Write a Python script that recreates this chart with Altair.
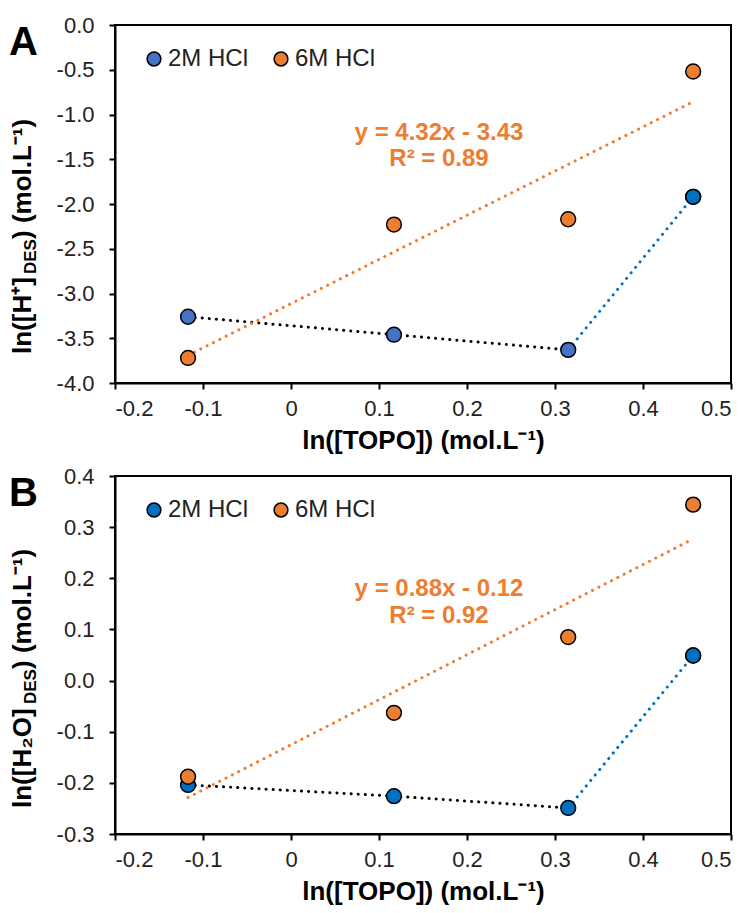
import altair as alt
import pandas as pd

FONT = "Liberation Sans"

# ---- data ----
x_topo = [-0.117, 0.117, 0.315, 0.457]
series_names = ["2M HCl", "6M HCl"]
a_2m = [-3.26, -3.46, -3.63, -1.92]
a_6m = [-3.72, -2.23, -2.17, -0.52]
b_2m = [-0.204, -0.226, -0.249, 0.049]
b_6m = [-0.188, -0.063, 0.085, 0.344]

x_ticks = [-0.2, -0.1, 0.0, 0.1, 0.2, 0.3, 0.4, 0.5]
a_y_ticks = [-4.0, -3.5, -3.0, -2.5, -2.0, -1.5, -1.0, -0.5, 0.0]
b_y_ticks = [-0.3, -0.2, -0.1, 0.0, 0.1, 0.2, 0.3, 0.4]

a_equation = ["y = 4.32x - 3.43", "R² = 0.89"]
b_equation = ["y = 0.88x - 0.12", "R² = 0.92"]
a_title_parts = ["ln([H⁺]", "DES", ") (mol.L⁻¹)"]
b_title_parts = ["ln([H₂O]", "DES", ") (mol.L⁻¹)"]
x_title = "ln([TOPO]) (mol.L⁻¹)"

ORANGE = "#ED7D31"
BLUE_A = "#4472C4"
BLUE_B = "#0070C0"

W, H = 616, 358
MINUS = "\u2212"


def txt(value, **kw):
    return alt.Chart(pd.DataFrame({"t": [value]})).mark_text(**kw)


def panel(y2m, y6m, yticks, ydomain, blue, letter, eq, tparts, eq_y, title_y0, w1):
    df = pd.DataFrame({
        "x": x_topo * 2,
        "y": y2m + y6m,
        "series": [series_names[0]] * 4 + [series_names[1]] * 4,
        "idx": [0, 1, 2, 3] * 2,
    })
    base = alt.Chart(df)
    xenc = alt.X("x:Q",
                 scale=alt.Scale(domain=[-0.2, 0.5], nice=False, zero=False),
                 axis=alt.Axis(values=x_ticks, title=x_title,
                               labelExpr=f"replace(format(datum.value, '.1~f'), '{MINUS}', '-')"))
    yenc = alt.Y("y:Q",
                 scale=alt.Scale(domain=ydomain, nice=False, zero=False),
                 axis=alt.Axis(values=yticks, title=None,
                               labelExpr=f"replace(format(datum.value, '.1f'), '{MINUS}', '-')"))
    dot = dict(strokeWidth=3, strokeDash=[0.1, 7], strokeCap="round")

    black_line = base.transform_filter(
        f"datum.series == '{series_names[0]}' && datum.idx <= 2"
    ).mark_line(color="black", **dot).encode(x=xenc, y=yenc, order="idx:Q")
    blue_line = base.transform_filter(
        f"datum.series == '{series_names[0]}' && datum.idx >= 2"
    ).mark_line(color=BLUE_B, **dot).encode(x=xenc, y=yenc, order="idx:Q")
    fit = base.transform_filter(
        f"datum.series == '{series_names[1]}'"
    ).transform_regression("x", "y").mark_line(color=ORANGE, **dot).encode(x=xenc, y=yenc)

    pts = base.mark_circle(size=220, opacity=1, stroke="black", strokeWidth=1.5).encode(
        x=xenc, y=yenc,
        color=alt.Color("series:N",
                        scale=alt.Scale(domain=series_names, range=[blue, ORANGE]),
                        legend=alt.Legend(orient="none", legendX=27, legendY=22,
                                          direction="horizontal", title=None,
                                          labelFont=FONT, labelFontSize=24,
                                          labelColor="#222222", symbolType="circle",
                                          symbolSize=190, symbolStrokeColor="black",
                                          symbolStrokeWidth=1.5, symbolOpacity=1,
                                          labelOffset=2, columnPadding=20, padding=0)),
    )
    last_pt = base.transform_filter(
        f"datum.series == '{series_names[0]}' && datum.idx == 3"
    ).mark_circle(size=220, opacity=1, stroke="black", strokeWidth=1.5, color=BLUE_B).encode(
        x=xenc, y=yenc)

    tstyle = dict(font=FONT, fontWeight="bold", color=ORANGE, fontSize=24,
                  align="center", baseline="middle")
    eq1 = txt(eq[0], **tstyle).encode(text="t:N", x=alt.value(324), y=alt.value(eq_y[0]))
    eq2 = txt(eq[1], **tstyle).encode(text="t:N", x=alt.value(324), y=alt.value(eq_y[1]))

    let = txt(letter, font=FONT, fontWeight="bold", fontSize=40, color="black",
              align="left", baseline="alphabetic").encode(
        text="t:N", x=alt.value(-106), y=alt.value(30))

    # rotated y-axis title with a subscript
    w2 = 35
    ts = dict(font=FONT, fontWeight="bold", color="black", angle=270,
              align="left", baseline="alphabetic")
    t1 = txt(tparts[0], fontSize=26, **ts).encode(text="t:N", x=alt.value(-84), y=alt.value(title_y0))
    t2 = txt(tparts[1], fontSize=17, **ts).encode(text="t:N", x=alt.value(-79), y=alt.value(title_y0 - w1))
    t3 = txt(tparts[2], fontSize=26, **ts).encode(text="t:N", x=alt.value(-84), y=alt.value(title_y0 - w1 - w2))

    return alt.layer(black_line, blue_line, fit, pts, last_pt, eq1, eq2, let, t1, t2, t3).properties(
        width=W, height=H)


pa = panel(a_2m, a_6m, a_y_ticks, [-4.0, 0.0], BLUE_A, "A", a_equation, a_title_parts,
           (108, 134), 329, 80)
pb = panel(b_2m, b_6m, b_y_ticks, [-0.3, 0.4], BLUE_B, "B", b_equation, b_title_parts,
           (113, 140), 332, 104)

chart = alt.vconcat(pa, pb, spacing=10).resolve_scale(color="independent").resolve_legend(
    color="independent"
).properties(
    padding={"left": 0, "top": 5, "right": 2, "bottom": 5}
).configure_view(
    stroke="black", strokeWidth=2
).configure_axis(
    domainColor="black", domainWidth=2, tickColor="black", tickWidth=2, tickSize=6,
    labelFont=FONT, labelFontSize=22, labelColor="#222222", grid=False,
    titleFont=FONT, titleFontSize=26, titleFontWeight="bold", titleColor="black"
).configure_axisY(
    labelPadding=15
).configure_axisX(
    labelPadding=9, titlePadding=8
)

chart.save("out.html", embed_options={"renderer": "svg", "actions": False})
